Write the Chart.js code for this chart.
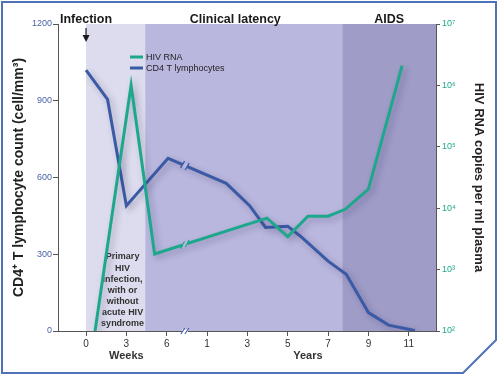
<!DOCTYPE html>
<html><head><meta charset="utf-8">
<script src="https://cdn.jsdelivr.net/npm/chart.js@4.4.1/dist/chart.umd.min.js"></script>
<style>html,body{margin:0;padding:0;background:#fff}canvas{display:block}</style>
</head><body>
<canvas id="c" width="500" height="382"></canvas>
<script>
// ---- data ----
const weekTicks = [0, 3, 6];
const yearTicks = [1, 3, 5, 7, 9, 11];
const cd4Ticks = [0, 300, 600, 900, 1200];
const rnaTicks = [1e2, 1e3, 1e4, 1e5, 1e6, 1e7];
const cd4Weeks = [0, 1.6, 3, 6.1];
const cd4WeekValues = [1020, 905, 490, 675];
const cd4Years = [1.95, 3.1, 3.9, 5, 5.7, 7, 7.9, 9, 10, 11.3];
const cd4YearValues = [577, 491, 405, 409, 366, 273, 222, 72, 23, 2];
const rnaWeeks = [0.67, 3.35, 5.1];
const rnaWeekValues = [100, 1000000, 1800];
const rnaYears = [3.97, 5, 6, 7, 7.85, 9, 10.67];
const rnaYearValues = [6900, 3450, 7400, 7400, 9600, 20400, 2100000];
const phaseLabels = ['Infection', 'Clinical latency', 'AIDS'];
const latencyStartWeek = 4.4;
const aidsStartYear = 7.7;
const primaryNote = ['Primary', 'HIV', 'infection,', 'with or', 'without', 'acute HIV', 'syndrome'];

// ---- shared broken time axis: weeks then years ----
const WK = 2 / 3, YR0 = 5, BREAK = 4.9;
const wk = w => w * WK;
const yr = y => y + YR0;
const tickLabels = new Map();
weekTicks.forEach(w => tickLabels.set(+wk(w).toFixed(4), String(w)));
yearTicks.forEach(y => tickLabels.set(+yr(y).toFixed(4), String(y)));

const cd4Data = cd4Weeks.map((w, i) => ({x: wk(w), y: cd4WeekValues[i]}))
  .concat(cd4Years.map((y, i) => ({x: yr(y), y: cd4YearValues[i]})));
const rnaData = rnaWeeks.map((w, i) => ({x: wk(w), y: rnaWeekValues[i]}))
  .concat(rnaYears.map((y, i) => ({x: yr(y), y: rnaYearValues[i]})));

const SUP = ['⁰','¹','²','³','⁴','⁵','⁶','⁷','⁸','⁹'];
const FONT = "'Liberation Sans', Arial, Helvetica, sans-serif";
Chart.defaults.font.family = FONT;

const C_TEAL = '#1ea88b', C_BLUE = '#3b5aa6';
const C_L1 = '#dcdcee', C_L2 = '#b9b7de', C_L3 = '#9f9cc8';

const decor = {
  id: 'decor',
  beforeDraw(chart) {
    const {ctx, chartArea: a, scales} = chart;
    const x = scales.x;
    ctx.save();
    ctx.fillStyle = '#fff';
    ctx.fillRect(0, 0, chart.width, chart.height);
    // frame
    ctx.strokeStyle = '#4f72b8';
    ctx.lineWidth = 2;
    ctx.beginPath();
    ctx.moveTo(2, 2); ctx.lineTo(496, 2); ctx.lineTo(496, 340);
    ctx.lineTo(463, 373); ctx.lineTo(2, 373); ctx.closePath();
    ctx.stroke();
    // phases
    const x0 = x.getPixelForValue(wk(0));
    const x1 = x.getPixelForValue(wk(latencyStartWeek));
    const x2 = x.getPixelForValue(yr(aidsStartYear));
    ctx.fillStyle = C_L1; ctx.fillRect(x0, a.top, x1 - x0, a.bottom - a.top);
    ctx.fillStyle = C_L2; ctx.fillRect(x1, a.top, x2 - x1, a.bottom - a.top);
    ctx.fillStyle = C_L3; ctx.fillRect(x2, a.top, a.right - x2, a.bottom - a.top);
    // phase headers
    ctx.fillStyle = '#1a1a1a';
    ctx.font = 'bold 12.5px ' + FONT;
    ctx.textAlign = 'center'; ctx.textBaseline = 'middle';
    ctx.fillText(phaseLabels[0], x0, 20);
    ctx.fillText(phaseLabels[1], x.getPixelForValue(yr(2.4)), 20);
    ctx.fillText(phaseLabels[2], (x2 + a.right) / 2, 20);
    // arrow
    ctx.strokeStyle = '#1a1a1a'; ctx.lineWidth = 1.2;
    ctx.beginPath(); ctx.moveTo(x0, 28); ctx.lineTo(x0, 38); ctx.stroke();
    ctx.beginPath(); ctx.moveTo(x0 - 3.5, 35); ctx.lineTo(x0 + 3.5, 35); ctx.lineTo(x0, 42); ctx.closePath();
    ctx.fillStyle = '#1a1a1a'; ctx.fill();
    // primary infection note
    ctx.fillStyle = '#333';
    ctx.font = 'bold 9px ' + FONT;
    const nx = (x0 + x1) / 2 + 7;
    primaryNote.forEach((t, i) => ctx.fillText(t, nx, 257 + i * 11.1));
    ctx.restore();
  },
  beforeDatasetDraw(chart) {
    const ctx = chart.ctx;
    ctx.save();
    ctx.shadowColor = 'rgba(40,30,80,0.3)';
    ctx.shadowBlur = 6; ctx.shadowOffsetX = 3; ctx.shadowOffsetY = 3;
  },
  afterDatasetDraw(chart) { chart.ctx.restore(); },
  afterDatasetsDraw(chart) {
    const {ctx, chartArea: a, scales} = chart;
    const x = scales.x;
    const bx = x.getPixelForValue(BREAK);
    ctx.save();
    // break marks on lines
    chart.data.datasets.forEach((ds, di) => {
      const pts = chart.getDatasetMeta(di).data;
      for (let i = 0; i < pts.length - 1; i++) {
        const p = pts[i], q = pts[i + 1];
        if (p.x <= bx && q.x >= bx) {
          const t = (bx - p.x) / (q.x - p.x);
          const by = p.y + t * (q.y - p.y);
          const ang = Math.atan2(q.y - p.y, q.x - p.x);
          const ux = Math.cos(ang), uy = Math.sin(ang);
          ctx.strokeStyle = C_L2; ctx.lineWidth = 5;
          ctx.beginPath(); ctx.moveTo(bx - ux * 2.5, by - uy * 2.5); ctx.lineTo(bx + ux * 2.5, by + uy * 2.5); ctx.stroke();
          ctx.strokeStyle = ds.borderColor; ctx.lineWidth = 1.3;
          [-2.5, 2.5].forEach(o => {
            const cx = bx + ux * o, cy = by + uy * o;
            ctx.beginPath(); ctx.moveTo(cx - 2, cy + 3.5); ctx.lineTo(cx + 2, cy - 3.5); ctx.stroke();
          });
        }
      }
    });
    // break on x axis
    ctx.strokeStyle = '#fff'; ctx.lineWidth = 3;
    ctx.beginPath(); ctx.moveTo(bx - 3, a.bottom); ctx.lineTo(bx + 3, a.bottom); ctx.stroke();
    ctx.strokeStyle = '#4a64a8'; ctx.lineWidth = 1.2;
    [-2, 2].forEach(o => { ctx.beginPath(); ctx.moveTo(bx + o - 2, a.bottom + 3); ctx.lineTo(bx + o + 2, a.bottom - 3); ctx.stroke(); });
    // Weeks / Years
    ctx.fillStyle = '#333';
    ctx.font = 'bold 11px ' + FONT;
    ctx.textAlign = 'center'; ctx.textBaseline = 'middle';
    ctx.fillText('Weeks', x.getPixelForValue(wk(3)), 356);
    ctx.fillText('Years', x.getPixelForValue(yr(6)), 356);
    // legend
    ctx.font = '9px ' + FONT;
    ctx.textAlign = 'left';
    chart.data.datasets.forEach((ds, i) => {
      const ly = 57 + i * 11;
      ctx.strokeStyle = ds.borderColor; ctx.lineWidth = 3;
      ctx.beginPath(); ctx.moveTo(130, ly); ctx.lineTo(143, ly); ctx.stroke();
      ctx.fillStyle = '#222';
      ctx.fillText(ds.label, 146, ly + 0.5);
    });
    ctx.restore();
  }
};

new Chart(document.getElementById('c'), {
  type: 'line',
  data: {
    datasets: [
      {label: 'HIV RNA', data: rnaData, yAxisID: 'yR', borderColor: C_TEAL, borderWidth: 3,
       pointRadius: 0, tension: 0, fill: false, borderJoinStyle: 'miter'},
      {label: 'CD4 T lymphocytes', data: cd4Data, yAxisID: 'yL', borderColor: C_BLUE, borderWidth: 3,
       pointRadius: 0, tension: 0, fill: false, borderJoinStyle: 'miter'}
    ]
  },
  options: {
    responsive: false,
    animation: false,
    devicePixelRatio: 1,
    layout: {padding: {top: 24, left: 0, right: 0, bottom: 0}},
    plugins: {legend: {display: false}, tooltip: {enabled: false}},
    scales: {
      x: {
        type: 'linear', min: -1.39, max: 17.35,
        afterBuildTicks: s => { s.ticks = [...tickLabels.keys()].map(v => ({value: v})); },
        afterFit: s => { s.height = 51; },
        ticks: {callback: v => tickLabels.get(+(+v).toFixed(4)) || '', color: '#333', font: {size: 10}, padding: 2, maxRotation: 0, autoSkip: false},
        grid: {drawOnChartArea: false, tickLength: 5, color: '#555'},
        border: {color: '#555', width: 1}
      },
      yL: {
        type: 'linear', position: 'left', min: 0, max: 1200,
        afterBuildTicks: s => { s.ticks = cd4Ticks.map(v => ({value: v})); },
        afterFit: s => { s.width = 58; },
        ticks: {color: '#4a64a8', font: {size: 9}, padding: 1, callback: v => String(v)},
        grid: {drawOnChartArea: false, tickLength: 5, color: '#555'},
        border: {color: '#555', width: 1},
        title: {display: true, text: 'CD4⁺ T lymphocyte count (cell/mm³)', color: '#222',
                font: {size: 14, weight: 'bold'}, padding: {top: 11, bottom: 0}}
      },
      yR: {
        type: 'logarithmic', position: 'right', min: 1e2, max: 1e7,
        afterBuildTicks: s => { s.ticks = rnaTicks.map(v => ({value: v})); },
        afterFit: s => { s.width = 64; },
        ticks: {color: C_TEAL, font: {size: 9}, padding: 2,
                callback: v => '10' + SUP[Math.round(Math.log10(v))]},
        grid: {drawOnChartArea: false, tickLength: 4, color: '#555'},
        border: {color: '#555', width: 1},
        title: {display: true, text: 'HIV RNA copies per ml plasma', color: '#222',
                font: {size: 13, weight: 'bold'}, padding: {top: 14, bottom: 0}}
      }
    }
  },
  plugins: [decor]
});
</script>
</body></html>
